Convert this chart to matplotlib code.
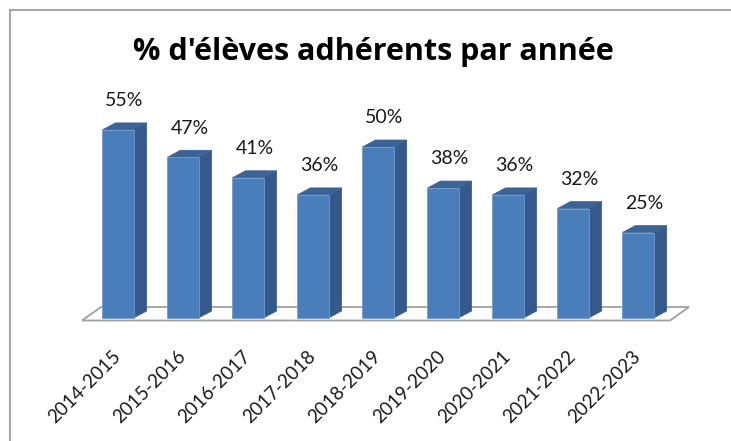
import matplotlib
matplotlib.use("Agg")
import matplotlib.pyplot as plt
from matplotlib.patches import Polygon
from matplotlib.lines import Line2D
import numpy as np

categories = ["2014-2015", "2015-2016", "2016-2017", "2017-2018", "2018-2019",
              "2019-2020", "2020-2021", "2021-2022", "2022-2023"]
values = [55, 47, 41, 36, 50, 38, 36, 32, 25]
labels = ["55%", "47%", "41%", "36%", "50%", "38%", "36%", "32%", "25%"]
title = "% d'élèves adhérents par année"

W, H = 731, 441
fig = plt.figure(figsize=(W / 100, H / 100), dpi=100)
fig.patch.set_facecolor("white")

# axes placement (pixels)
ax_l, ax_r, ax_t, ax_b = 70, 705, 88, 330
ax = fig.add_axes([ax_l / W, 1 - ax_b / H, (ax_r - ax_l) / W, (ax_b - ax_t) / H])

px_per_cat = 65.0
x0_px = 118.0
px_per_unit = 3.42
zero_px = 318.0
ax.set_xlim((ax_l - x0_px) / px_per_cat, (ax_r - x0_px) / px_per_cat)
ax.set_ylim((zero_px - ax_b) / px_per_unit, (zero_px - ax_t) / px_per_unit)

front = "#4a7ebb"
side = "#34598a"
topc = "#3b6396"
width = 0.48
dx = 13 / px_per_cat
dy = 7 / px_per_unit

x = np.arange(len(categories))

# floor
fx0 = (82 - x0_px) / px_per_cat
fx1 = (670 - x0_px) / px_per_cat
fdx = 19 / px_per_cat
fdy_front = -2.5 / px_per_unit
fdy_back = 11 / px_per_unit
floor = Polygon([(fx0, fdy_front), (fx1, fdy_front), (fx1 + fdx, fdy_back), (fx0 + fdx, fdy_back)],
                closed=True, facecolor="white", edgecolor="#a0a0a0", lw=1.3, zorder=1)
ax.add_patch(floor)

bars = ax.bar(x, values, width=width, color=front, edgecolor="#6f9ad0", linewidth=0.6, zorder=3)
for xi, v in zip(x, values):
    xl = xi - width / 2
    xr = xi + width / 2
    ax.add_patch(Polygon([(xr, 0), (xr + dx, dy), (xr + dx, v + dy), (xr, v)],
                         closed=True, facecolor=side, edgecolor=side, lw=0.5, zorder=2))
    ax.add_patch(Polygon([(xl, v), (xr, v), (xr + dx, v + dy), (xl + dx, v + dy)],
                         closed=True, facecolor=topc, edgecolor=topc, lw=0.5, zorder=2))

for xi, v, lab in zip(x, values, labels):
    ax.annotate(lab, xy=(xi + dx / 2, v), xytext=(0, 21), textcoords="offset points",
                ha="center", va="center", fontsize=14, family="Lato", color="#1a1a1a")

ax.set_xticks(x)
ax.set_xticklabels(categories, rotation=45, ha="right", va="center",
                   rotation_mode="anchor", fontsize=13.5, family="Lato", color="#1a1a1a")
ax.tick_params(axis="x", length=0, pad=17)
ax.set_yticks([])
for s in ax.spines.values():
    s.set_visible(False)
ax.patch.set_visible(False)

fig.text(373 / W, 1 - 52 / H, title, ha="center", va="center", fontsize=22,
         fontweight="bold", family="Open Sans", color="black")

# chart border (partially visible)
bx = 10 / W
by = 1 - 10 / H
fig.add_artist(Line2D([bx, bx], [0, by], transform=fig.transFigure, color="#a6a6a6", lw=1.5))
fig.add_artist(Line2D([bx, 1], [by, by], transform=fig.transFigure, color="#a6a6a6", lw=1.5))

fig.savefig("out.png", dpi=100, facecolor="white")
